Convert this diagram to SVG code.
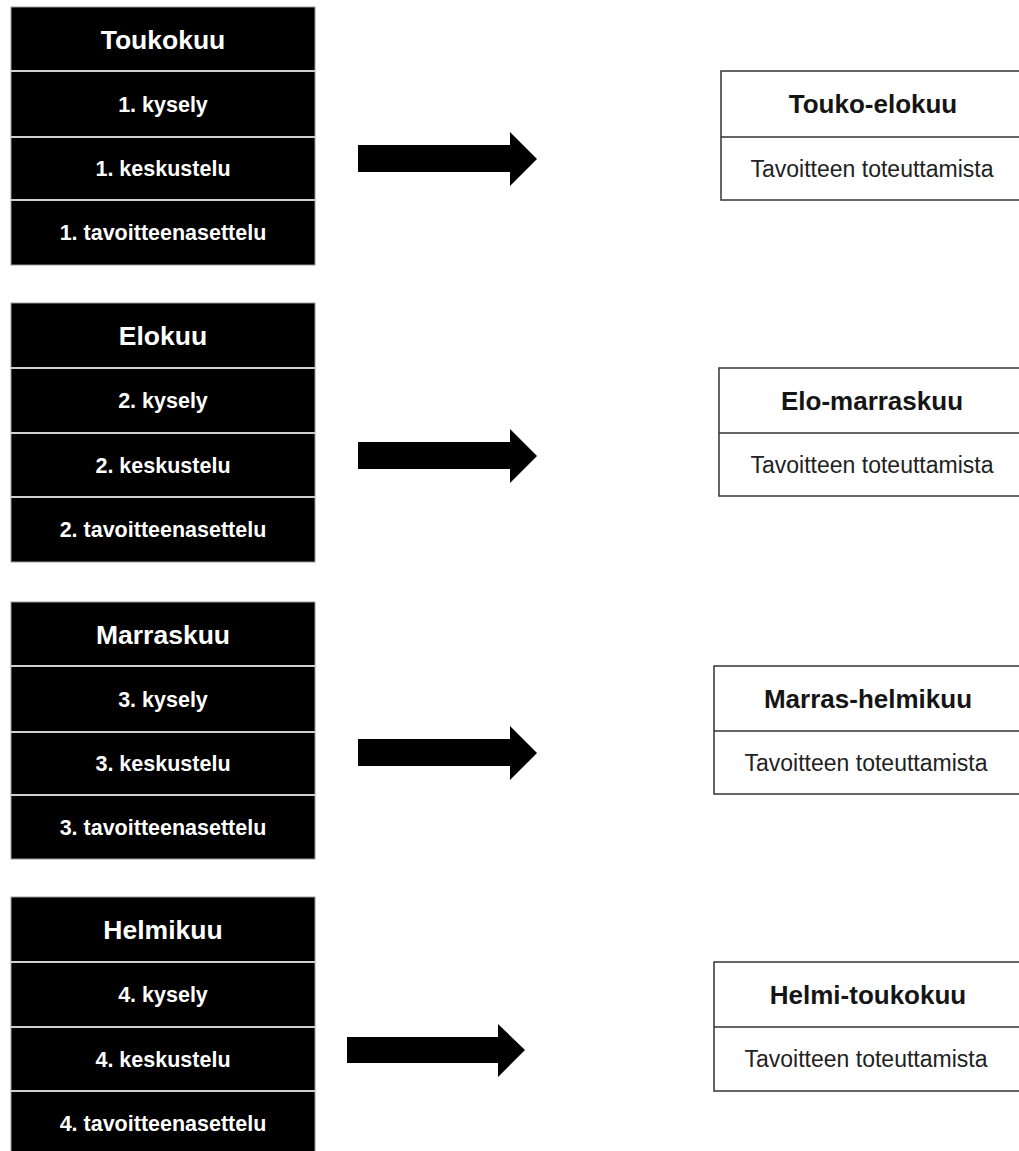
<svg xmlns="http://www.w3.org/2000/svg" width="1019" height="1151" viewBox="0 0 1019 1151">
<style>
.blk{fill:#000;stroke:#999;stroke-width:1}
.sep{stroke:#cfcfcf;stroke-width:2}
.lh{font-family:"Liberation Sans",Arial,sans-serif;font-weight:bold;font-size:26.5px;fill:#fff;text-anchor:middle}
.ls{font-family:"Liberation Sans",Arial,sans-serif;font-weight:bold;font-size:21.5px;fill:#fff;text-anchor:middle}
.box{fill:#fff;stroke:#333;stroke-width:1.5}
.div{stroke:#333;stroke-width:1.5}
.rh{font-family:"Liberation Sans",Arial,sans-serif;font-weight:bold;font-size:26px;fill:#151515;text-anchor:middle}
.rs{font-family:"Liberation Sans",Arial,sans-serif;font-size:23px;fill:#222;text-anchor:middle}
.arr{fill:#000}
</style>
<rect width="1019" height="1151" fill="#fff"/>

<g id="toukokuu">
<rect class="blk" x="11" y="7" width="304" height="258"/>
<line class="sep" x1="11" y1="71" x2="315" y2="71"/>
<line class="sep" x1="11" y1="137" x2="315" y2="137"/>
<line class="sep" x1="11" y1="200" x2="315" y2="200"/>
<text class="lh" x="163" y="48.5">Toukokuu</text>
<text class="ls" x="163" y="111.7">1. kysely</text>
<text class="ls" x="163" y="176.2">1. keskustelu</text>
<text class="ls" x="163" y="240.2">1. tavoitteenasettelu</text>
</g>

<g id="elokuu">
<rect class="blk" x="11" y="303" width="304" height="259"/>
<line class="sep" x1="11" y1="368" x2="315" y2="368"/>
<line class="sep" x1="11" y1="433" x2="315" y2="433"/>
<line class="sep" x1="11" y1="497" x2="315" y2="497"/>
<text class="lh" x="163" y="345">Elokuu</text>
<text class="ls" x="163" y="408.2">2. kysely</text>
<text class="ls" x="163" y="472.7">2. keskustelu</text>
<text class="ls" x="163" y="537.2">2. tavoitteenasettelu</text>
</g>

<g id="marraskuu">
<rect class="blk" x="11" y="602" width="304" height="257"/>
<line class="sep" x1="11" y1="666" x2="315" y2="666"/>
<line class="sep" x1="11" y1="732" x2="315" y2="732"/>
<line class="sep" x1="11" y1="795" x2="315" y2="795"/>
<text class="lh" x="163" y="643.5">Marraskuu</text>
<text class="ls" x="163" y="706.7">3. kysely</text>
<text class="ls" x="163" y="771.2">3. keskustelu</text>
<text class="ls" x="163" y="834.7">3. tavoitteenasettelu</text>
</g>

<g id="helmikuu">
<rect class="blk" x="11" y="897" width="304" height="262"/>
<line class="sep" x1="11" y1="962" x2="315" y2="962"/>
<line class="sep" x1="11" y1="1027" x2="315" y2="1027"/>
<line class="sep" x1="11" y1="1091" x2="315" y2="1091"/>
<text class="lh" x="163" y="939">Helmikuu</text>
<text class="ls" x="163" y="1002.2">4. kysely</text>
<text class="ls" x="163" y="1066.7">4. keskustelu</text>
<text class="ls" x="163" y="1131.2">4. tavoitteenasettelu</text>
</g>

<g id="connectors">
<polygon class="arr" points="358,145 510,145 510,132 537,159 510,186 510,172 358,172"/>
<polygon class="arr" points="358,442 510,442 510,429 537,456 510,483 510,469 358,469"/>
<polygon class="arr" points="358,739 510,739 510,726 537,753 510,780 510,766 358,766"/>
<polygon class="arr" points="347,1037 498,1037 498,1024 525,1050 498,1077 498,1063 347,1063"/>
</g>

<g id="touko-elokuu">
<rect class="box" x="721" y="71" width="310" height="129"/>
<line class="div" x1="721" y1="137" x2="1031" y2="137"/>
<text class="rh" x="873" y="113.3">Touko-elokuu</text>
<text class="rs" x="872" y="176.7">Tavoitteen toteuttamista</text>
</g>

<g id="elo-marraskuu">
<rect class="box" x="719" y="368" width="312" height="128"/>
<line class="div" x1="719" y1="433" x2="1031" y2="433"/>
<text class="rh" x="872" y="409.8">Elo-marraskuu</text>
<text class="rs" x="872" y="472.7">Tavoitteen toteuttamista</text>
</g>

<g id="marras-helmikuu">
<rect class="box" x="714" y="666" width="317" height="128"/>
<line class="div" x1="714" y1="731" x2="1031" y2="731"/>
<text class="rh" x="868" y="707.8">Marras-helmikuu</text>
<text class="rs" x="866" y="770.7">Tavoitteen toteuttamista</text>
</g>

<g id="helmi-toukokuu">
<rect class="box" x="714" y="962" width="317" height="129"/>
<line class="div" x1="714" y1="1027" x2="1031" y2="1027"/>
<text class="rh" x="868" y="1003.8">Helmi-toukokuu</text>
<text class="rs" x="866" y="1067.2">Tavoitteen toteuttamista</text>
</g>
</svg>
